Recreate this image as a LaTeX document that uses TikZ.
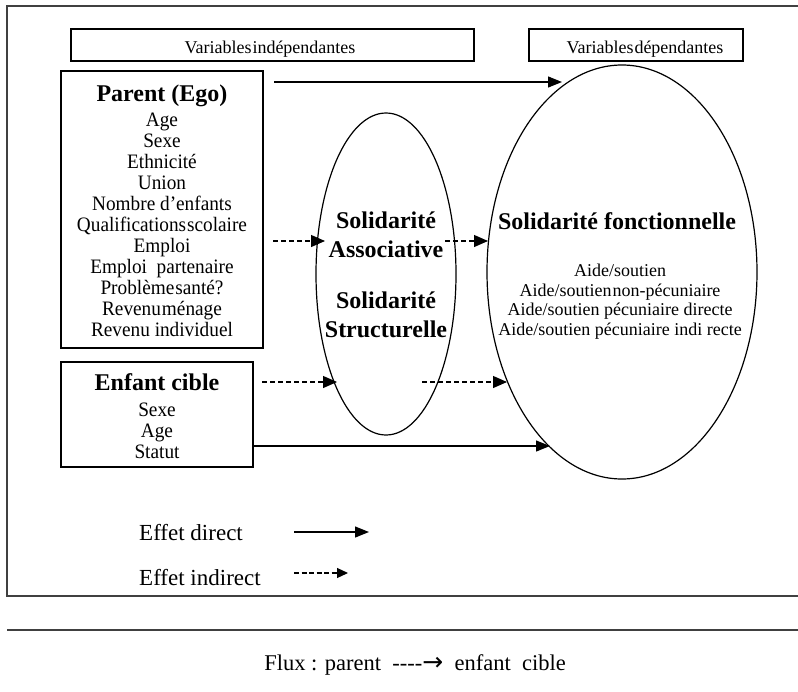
\documentclass[tikz,border=0pt]{standalone}
\usepackage{fontspec}
\setmainfont{Liberation Serif}
\newfontfamily\symf{DejaVu Sans}
\usetikzlibrary{arrows.meta,shapes.geometric}
\begin{document}
\begin{tikzpicture}[x=1pt,y=-1pt,
  frame/.style={draw=black!75,line width=1.5pt},
  box/.style={draw,line width=1.2pt,inner sep=0pt},
  txt/.style={anchor=base,inner sep=0pt,font=\fontsize{20.5}{21}\selectfont\addfontfeature{FakeStretch=0.94}},
  small/.style={anchor=base,inner sep=0pt,font=\fontsize{18}{20}\selectfont},
  ttl/.style={anchor=base,inner sep=0pt,font=\fontsize{24}{26}\selectfont\bfseries},
  leg/.style={anchor=base west,inner sep=0pt,font=\fontsize{23}{25}\selectfont},
  direct/.style={line width=1.2pt,-{Triangle[length=14pt,width=11pt]}},
  indirect/.style={line width=1.2pt,dash pattern=on 5pt off 3pt,-{Triangle[length=14pt,width=12pt]}},
  oval/.style={draw,ellipse,line width=1.2pt,inner sep=0pt}]
\useasboundingbox (0,0) rectangle (798,691);
% outer frame
\draw[frame] (800,6) -- (7,6) -- (7,596) -- (800,596);
\draw[frame] (7,630) -- (800,630);
% header boxes
\node[box,minimum width=403pt,minimum height=32pt] (indep) at (272.5,45) {};
\node[small] (indept) at (270,53) {Variables\kern1pt indépendantes};
\node[box,minimum width=214pt,minimum height=32pt] (dep) at (636,45) {};
\node[small] (dept) at (645,53) {Variables\kern1pt dépendantes};
% parent box
\node[box,minimum width=202pt,minimum height=277pt] (parent) at (162,209.5) {};
\node[ttl] (parentt) at (162,101) {Parent (Ego)};
\node[txt] (p1) at (162,126) {Age};
\node[txt] (p2) at (162,147) {Sexe};
\node[txt] (p3) at (162,168) {Ethnicité};
\node[txt] (p4) at (162,189) {Union};
\node[txt] (p5) at (162,210) {Nombre d’enfants};
\node[txt] (p6) at (162,231) {Qualifications\kern1pt scolaire};
\node[txt] (p7) at (162,252) {Emploi};
\node[txt] (p8) at (162,273) {Emploi\ \ partenaire};
\node[txt] (p9) at (162,294) {Problème\kern1pt santé?};
\node[txt] (p10) at (162,315) {Revenu\kern1pt ménage};
\node[txt] (p11) at (162,336) {Revenu individuel};
% enfant box
\node[box,minimum width=192pt,minimum height=105pt] (enfant) at (157,414.5) {};
\node[ttl] (enfantt) at (157,390) {Enfant cible};
\node[txt] (e1) at (157,416) {Sexe};
\node[txt] (e2) at (157,437) {Age};
\node[txt] (e3) at (157,458) {Statut};
% ellipses
\node[oval,minimum width=140pt,minimum height=322pt] (assoc) at (386,274) {};
\node[ttl] (s1) at (386,228) {Solidarité};
\node[ttl] (s2) at (386,257) {Associative};
\node[ttl] (s3) at (386,308) {Solidarité};
\node[ttl] (s4) at (386,337) {Structurelle};
\node[oval,minimum width=270pt,minimum height=414pt] (fonct) at (622,272) {};
\node[ttl] (f0) at (617,229) {Solidarité fonctionnelle};
\node[small] (f1) at (620,276) {Aide/soutien};
\node[small] (f2) at (620,296) {Aide/soutien\kern1pt non-pécuniaire};
\node[small] (f3) at (620,315) {Aide/soutien pécuniaire directe};
\node[small] (f4) at (620,335) {Aide/soutien pécuniaire indi recte};
% connectors
\coordinate (a1s) at (274,82);  \coordinate (a1e) at (562,82);
\coordinate (a2s) at (273,241); \coordinate (a2e) at (325,241);
\coordinate (a3s) at (445,241); \coordinate (a3e) at (488,241);
\coordinate (a4s) at (262,382); \coordinate (a4e) at (337,382);
\coordinate (a5s) at (422,382); \coordinate (a5e) at (507,382);
\coordinate (a6s) at (enfant.east|-0,446); \coordinate (a6e) at (550,446);
\draw[direct] (a1s) -- (a1e);
\draw[indirect] (a2s) -- (a2e);
\draw[indirect] (a3s) -- (a3e);
\draw[indirect] (a4s) -- (a4e);
\draw[indirect] (a5s) -- (a5e);
\draw[direct] (a6s) -- (a6e);
% legend
\node[leg] (ld) at (139,540) {Effet direct};
\node[leg] (li) at (139,585) {Effet indirect};
\coordinate (l1s) at (294,532); \coordinate (l1e) at (369,532);
\coordinate (l2s) at (294,573); \coordinate (l2e) at (348,573);
\draw[line width=1.2pt,-{Triangle[length=14pt,width=11pt]}] (l1s) -- (l1e);
\draw[line width=1.2pt,dash pattern=on 5pt off 2.5pt,-{Triangle[length=11pt,width=10pt]}] (l2s) -- (l2e);
% flux
\node[anchor=base,inner sep=0pt,font=\fontsize{22.5}{24}\selectfont] (flux) at (415,670) {Flux : parent \ -{}-{}-{}-{\symf\fontsize{25}{25}\selectfont →} \ enfant\ \ cible};
\end{tikzpicture}
\end{document}
